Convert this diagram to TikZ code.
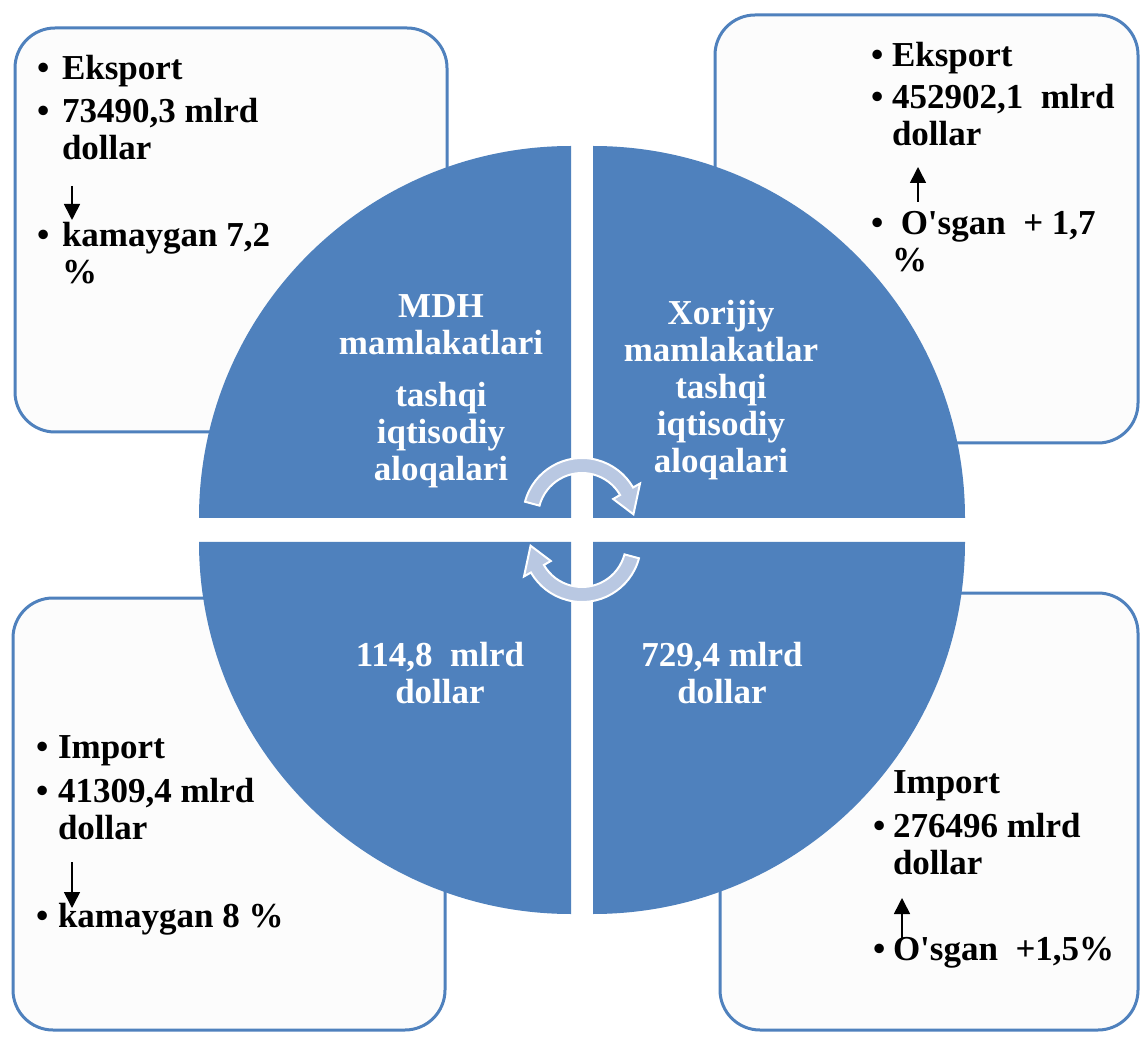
\documentclass[tikz,border=0pt]{standalone}
\usepackage{fontspec}
\setmainfont{Liberation Serif}
\usetikzlibrary{calc,arrows.meta}

\definecolor{quadblue}{HTML}{4F81BD}
\definecolor{cyclefill}{HTML}{B9C8E2}
\definecolor{boxfill}{HTML}{FCFCFC}
\newcommand{\itemfont}{\fontsize{17.5}{18.5}\selectfont\bfseries}

\begin{document}
\begin{tikzpicture}[x=0.5pt,y=-0.5pt,
  every node/.style={inner sep=0pt, outer sep=0pt},
  panel/.style={draw=quadblue, line width=1.5pt, fill=boxfill, rounded corners=20pt},
  quad/.style={fill=quadblue},
  bul/.style={anchor=base west, font=\itemfont},
  txt/.style={anchor=base west, align=left, font=\itemfont},
  mid/.style={anchor=base, align=center, font=\itemfont, text=white},
  updown/.style={-{Triangle[width=8pt,length=8pt]}, line width=0.8pt},
  cyc/.style={fill=cyclefill, draw=white, line width=1pt}]
\useasboundingbox[fill=white] (0,0) rectangle (1141,1037);

% four panels behind the circle
\draw[panel] (15,28) rectangle (447,432);
\draw[panel] (715,15) rectangle (1138,443);
\draw[panel] (13,598) rectangle (445,1030);
\draw[panel] (720,593) rectangle (1138,1030);

% quarters of the circle
\fill[quad] (571,518) -- ++(-372,0) arc[start angle=180, end angle=270, radius=372] -- cycle;
\fill[quad] (593,518) -- ++(0,-372) arc[start angle=270, end angle=360, radius=372] -- cycle;
\fill[quad] (571,542) -- ++(0,372) arc[start angle=90, end angle=180, radius=372] -- cycle;
\fill[quad] (593,542) -- ++(372,0) arc[start angle=0, end angle=90, radius=372] -- cycle;

% top left panel (multi-line nodes sit on their last line)
\node[bul] (b11) at (37,80) {\textbullet};
\node[txt] (ex1) at (62,80) {Eksport};
\node[bul] (b12) at (37,123) {\textbullet};
\node[txt] (ex1v) at (62,160) {73490,3 mlrd\\dollar};
\node[bul] (b13) at (37,247) {\textbullet};
\node[txt] (ex1p) at (62,284) {kamaygan 7,2\\\%};
\coordinate (ex1a) at (72,186);
\coordinate (ex1b) at (72,220);
\draw[updown] (ex1a) -- (ex1b);

% top right panel
\node[bul] (b21) at (871,67) {\textbullet};
\node[txt] (ex2) at (892,67) {Eksport};
\node[bul] (b22) at (871,109) {\textbullet};
\node[txt] (ex2v) at (892,146) {452902,1\ \ mlrd\\dollar};
\node[bul] (b23) at (871,235) {\textbullet};
\node[txt] (ex2p) at (892,272) {\ O\textquotesingle sgan\ \ + 1,7\\\%};
\coordinate (ex2a) at (918,202);
\coordinate (ex2b) at (918,167);
\draw[updown] (ex2a) -- (ex2b);

% bottom left panel
\node[bul] (b31) at (36,758) {\textbullet};
\node[txt] (im1) at (58,758) {Import};
\node[bul] (b32) at (36,802) {\textbullet};
\node[txt] (im1v) at (58,839) {41309,4 mlrd\\dollar};
\node[bul] (b33) at (36,927) {\textbullet};
\node[txt] (im1p) at (58,927) {kamaygan 8 \%};
\coordinate (im1a) at (72,862);
\coordinate (im1b) at (72,908);
\draw[updown] (im1a) -- (im1b);

% bottom right panel
\node[txt] (im2) at (893,793) {Import};
\node[bul] (b41) at (873,837) {\textbullet};
\node[txt] (im2v) at (893,874) {276496 mlrd\\dollar};
\node[bul] (b42) at (873,960) {\textbullet};
\node[txt] (im2p) at (893,960) {O\textquotesingle sgan\ \ +1,5\%};
\coordinate (im2a) at (902,938);
\coordinate (im2b) at (902,898);
\draw[updown] (im2a) -- (im2b);

% texts in the circle
\node[mid] (mdh) at (441,355) {MDH\\mamlakatlari};
\node[mid] (mdh2) at (441,481) {tashqi\\iqtisodiy\\aloqalari};
\node[mid] (xor) at (721,473) {Xorijiy\\mamlakatlar\\tashqi\\iqtisodiy\\aloqalari};
\node[mid] (mdhsum) at (440,703) {114,8\ \ mlrd\\dollar};
\node[mid] (xorsum) at (722,703) {729,4 mlrd\\dollar};

% the two turning arrows
\foreach \cy/\a in {517/0, 543/180}{
  \path[cyc] ($(582,\cy)+(195+\a:44)$) -- ($(582,\cy)+(195+\a:59)$)
    arc[start angle=195+\a, end angle=330+\a, radius=59]
    -- ($(582,\cy)+(330+\a:67)$) -- ($(582,\cy)+(357+\a:51.5)$)
    -- ($(582,\cy)+(330+\a:36)$) -- ($(582,\cy)+(330+\a:44)$)
    arc[start angle=330+\a, end angle=195+\a, radius=44] -- cycle;
}
\end{tikzpicture}
\end{document}
